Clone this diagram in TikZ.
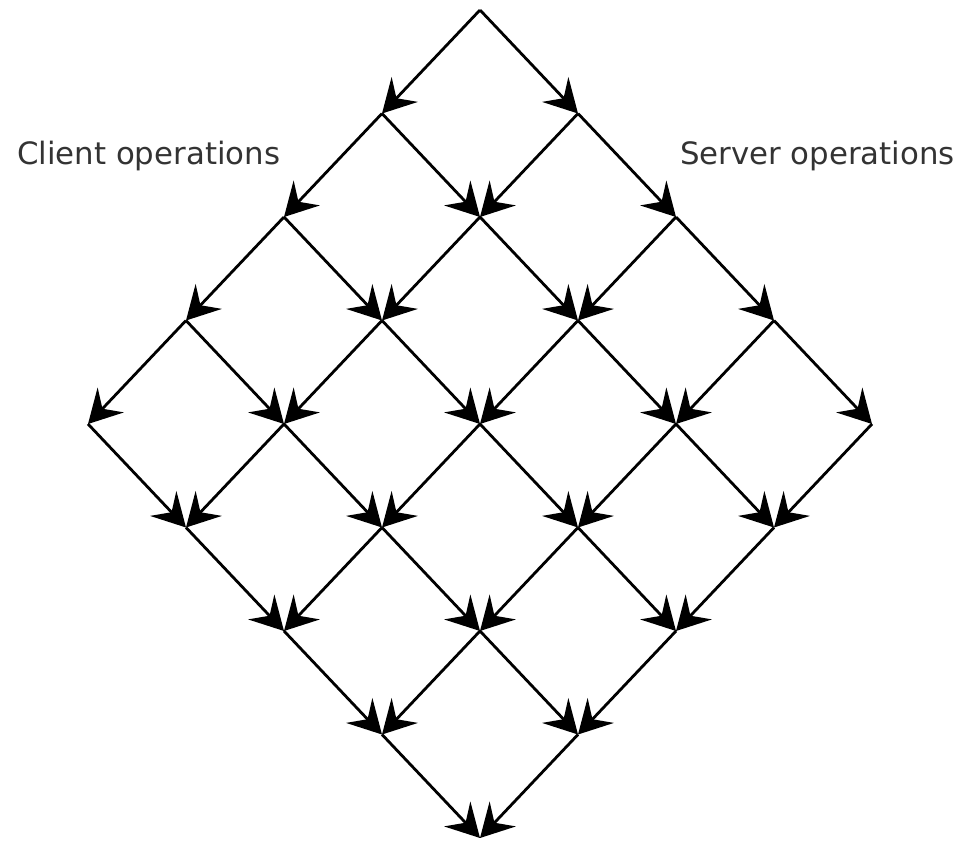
\documentclass[tikz,border=0pt]{standalone}
\usepackage{fontspec}
\setmainfont{DejaVu Sans}
\usetikzlibrary{arrows.meta}
\tikzset{
  edge/.style={line width=2.8pt, black, -{Stealth[length=33pt, width=36pt, inset=12pt]}},
  lbl/.style={font=\fontsize{30.8}{36}\selectfont, text=black!80, inner sep=0pt, anchor=base west}
}
\begin{document}
\begin{tikzpicture}[x=1pt,y=1pt]
\useasboundingbox (0,0) rectangle (962,-842);
\foreach \i in {0,...,4}{
  \foreach \j in {0,...,4}{
    \coordinate (n-\i-\j) at ({480-98*\i+98*\j},{-10-103.5*(\i+\j)});
  }
}
\foreach \i in {0,...,4}{
  \foreach \j in {0,...,4}{
    \ifnum\i<4
      \pgfmathtruncatemacro{\ni}{\i+1}
      \draw[edge] (n-\i-\j) -- (n-\ni-\j);
    \fi
    \ifnum\j<4
      \pgfmathtruncatemacro{\nj}{\j+1}
      \draw[edge] (n-\i-\j) -- (n-\i-\nj);
    \fi
  }
}
\node[lbl] (client) at (17,-165) {Client operations};
\node[lbl] (server) at (680,-165) {Server operations};
\end{tikzpicture}
\end{document}
